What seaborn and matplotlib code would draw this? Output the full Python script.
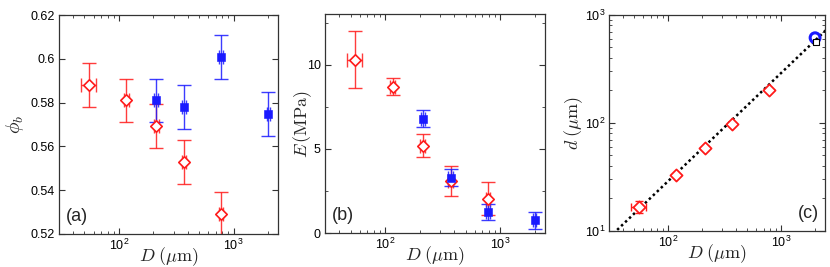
import numpy as np
import pandas as pd
import matplotlib
matplotlib.use("Agg")
import matplotlib.pyplot as plt
import seaborn as sns

sns.set_style("ticks")
plt.rcParams["font.family"] = ["Liberation Sans", "DejaVu Sans"]
plt.rcParams["mathtext.fontset"] = "cm"

# particle size D (um)
D_red = [55, 116, 212, 370, 780]
D_red_err = [8, 6, 10, 15, 30]
D_blue = [212, 370, 780, 2000]
D_blue_err = [8, 15, 30, 60]

# (a) packing fraction
phi_red = [0.588, 0.581, 0.5695, 0.553, 0.529]
phi_blue = [0.581, 0.578, 0.601, 0.5748]
phi_err = 0.01

# (b) Young's modulus (MPa)
E_red = [10.3, 8.7, 5.2, 3.1, 2.05]
E_red_err = [1.7, 0.5, 0.7, 0.9, 1.0]
E_blue = [6.8, 3.3, 1.25, 0.75]
E_blue_err = [0.5, 0.5, 0.5, 0.5]

# (c) d vs D
d_red = [16.8, 33, 59, 98, 202]
d_red_err = [2.0, 0, 0, 0, 0]
D_circle = [2000]
d_circle = [615]
D_square = [2020]
d_square = [565]
fit_D = [30, 2600]
fit_slope = 0.29

RED = "#ff1a1a"
BLUE = "#1a1aff"

fig = plt.figure(figsize=(8.3, 2.67), dpi=100)
ax_a = fig.add_axes([0.0711, 0.1236, 0.264, 0.820])
ax_b = fig.add_axes([0.3916, 0.127, 0.265, 0.820])
ax_c = fig.add_axes([0.734, 0.135, 0.260, 0.809])

red = pd.DataFrame({"D": D_red, "phi": phi_red, "E": E_red, "d": d_red})
blue = pd.DataFrame({"D": D_blue, "phi": phi_blue, "E": E_blue})

eb = dict(fmt="none", elinewidth=1.0, capsize=5, capthick=1.0, zorder=2)

# (a)
ax_a.errorbar(D_red, phi_red, yerr=phi_err, xerr=D_red_err, ecolor=RED, alpha=0.85, **eb)
ax_a.errorbar(D_blue, phi_blue, yerr=phi_err, xerr=D_blue_err, ecolor=BLUE, alpha=0.85, **eb)
sns.scatterplot(data=red, x="D", y="phi", ax=ax_a, marker="D", s=34,
                facecolor="white", edgecolor=RED, linewidth=1.2, zorder=3)
sns.scatterplot(data=blue, x="D", y="phi", ax=ax_a, marker="s", s=28,
                color=BLUE, edgecolor=BLUE, zorder=3)
ax_a.set_ylim(0.52, 0.62)
ax_a.set_yticks([0.52, 0.54, 0.56, 0.58, 0.6, 0.62])
ax_a.set_yticklabels(["0.52", "0.54", "0.56", "0.58", "0.6", "0.62"])
ax_a.set_ylabel(r"$\phi_b$", fontsize=14, va="center")
ax_a.yaxis.set_label_coords(-0.2, 0.5)

# (b)
ax_b.errorbar(D_red, E_red, yerr=E_red_err, xerr=D_red_err, ecolor=RED, alpha=0.85, **eb)
ax_b.errorbar(D_blue, E_blue, yerr=E_blue_err, xerr=D_blue_err, ecolor=BLUE, alpha=0.85, **eb)
sns.scatterplot(data=red, x="D", y="E", ax=ax_b, marker="D", s=34,
                facecolor="white", edgecolor=RED, linewidth=1.2, zorder=3)
sns.scatterplot(data=blue, x="D", y="E", ax=ax_b, marker="s", s=28,
                color=BLUE, edgecolor=BLUE, zorder=3)
ax_b.set_ylim(0, 13)
ax_b.set_yticks([0, 5, 10])
ax_b.set_yticks([2.5, 7.5, 12.5], minor=True)
ax_b.set_ylabel(r"$E\,(\mathrm{MPa})$", fontsize=13, va="center")
ax_b.yaxis.set_label_coords(-0.1, 0.5)

# (c)
sns.lineplot(x=fit_D, y=[fit_slope * v for v in fit_D], ax=ax_c, color="black",
             linestyle=(0, (1, 1.2)), linewidth=1.8, zorder=1)
ax_c.errorbar(D_red, d_red, yerr=d_red_err, xerr=[D_red_err[0], 0, 0, 0, 0],
              ecolor=RED, **dict(eb, capsize=3))
sns.scatterplot(data=red, x="D", y="d", ax=ax_c, marker="D", s=38,
                facecolor="white", edgecolor=RED, linewidth=1.3, zorder=3)
sns.scatterplot(x=D_circle, y=d_circle, ax=ax_c, marker="o", s=50,
                facecolor="none", edgecolor=BLUE, linewidth=2.2, zorder=3)
sns.scatterplot(x=D_square, y=d_square, ax=ax_c, marker="s", s=25,
                facecolor="white", edgecolor="black", linewidth=0.8, zorder=4)
ax_c.set_yscale("log")
ax_c.set_ylim(10, 1000)
ax_c.set_ylabel(r"$d\;(\mu\mathrm{m})$", fontsize=13, va="center")
ax_c.yaxis.set_label_coords(-0.167, 0.5)

for ax, lab, pos in [(ax_a, "(a)", (0.03, 0.04, "left")),
                     (ax_b, "(b)", (0.03, 0.04, "left")),
                     (ax_c, "(c)", (0.97, 0.04, "right"))]:
    ax.set_xscale("log")
    ax.set_xlim(30, 2450)
    ax.set_xlabel(r"$D\;(\mu\mathrm{m})$", fontsize=13, va="center")
    ax.xaxis.set_label_coords(0.5, -0.105)
    ax.tick_params(which="both", direction="in", top=True, right=True,
                   labelsize=9, colors="#333333", labelcolor="black", pad=3)
    ax.tick_params(which="major", length=4, width=0.8)
    ax.tick_params(which="minor", length=2.5, width=0.6)
    for sp in ax.spines.values():
        sp.set_visible(True)
        sp.set_linewidth(0.9)
        sp.set_color("#333333")
    ax.text(pos[0], pos[1], lab, transform=ax.transAxes, ha=pos[2], va="bottom",
            fontsize=13)

fig.savefig("out.png", dpi=100)
